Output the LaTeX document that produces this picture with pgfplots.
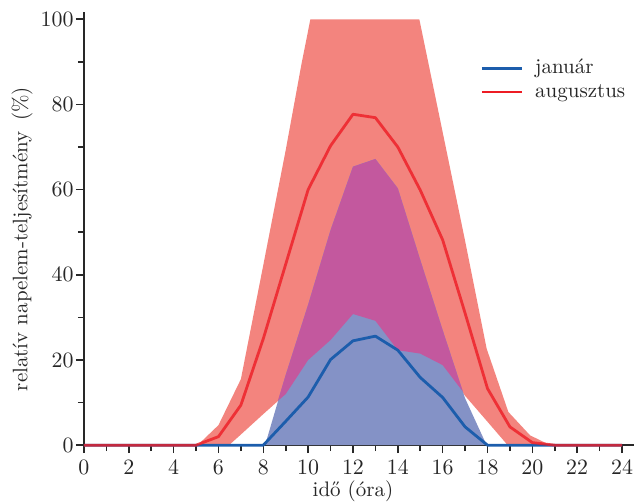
\documentclass[border=0pt]{standalone}
\usepackage{pgfplots}
\pgfplotsset{compat=1.18}

\definecolor{augfill}{RGB}{243,132,126}
\definecolor{janfill}{RGB}{132,146,198}
\definecolor{overlap}{RGB}{195,88,158}
\definecolor{augline}{RGB}{237,28,36}
\definecolor{janline}{RGB}{28,93,172}
\definecolor{axisgray}{RGB}{40,40,40}

\begin{document}
\begin{tikzpicture}
\begin{axis}[
    scale only axis,
    width=269pt, height=212.9pt,
    xmin=0, xmax=24, ymin=0, ymax=100,
    axis lines*=left,
    axis line style={line width=0.8pt, axisgray},
    x axis line style={shorten >=-6pt},
    y axis line style={shorten >=-3.5pt},
    xtick={0,2,...,24}, minor xtick={1,3,...,23},
    ytick={0,20,...,100}, minor ytick={10,30,...,90},
    tick align=outside,
    major tick length=4pt, minor tick length=3pt,
    tick style={line width=0.8pt, axisgray},
    font=\fontsize{10.5}{12}\selectfont,
    tick label style={font=\fontsize{10.5}{12}\selectfont, text=black!85},
    yticklabel style={inner sep=1pt},
    xlabel={idő (óra)},
    ylabel={relatív napelem-teljesítmény\enspace(\%)},
    label style={text=black!85},
    xlabel style={at={(axis description cs:0.5,-0.108)}, anchor=center},
    ylabel style={at={(axis description cs:-0.115,0.484)}, anchor=center},
    legend style={at={(0.736,0.857)}, anchor=west, draw=none, fill=none,
        inner sep=0pt, row sep=0pt, text=black!85,
        nodes={inner sep=1pt, text height=7.5pt, text depth=2.2pt},
        /tikz/every odd column/.append style={column sep=5pt}},
    legend cell align=left,
    legend image code/.code={\draw[#1, opacity=1] (0pt,0pt) -- (20pt,0pt);},
    clip=false,
]
% augusztus: min-max savja
\addplot[fill=augfill, draw=none, forget plot] coordinates {
    (5.07,0) (6,4.7) (7,15.5) (8,42.3) (9,69.3) (9.71,89.7) (10.1,100)
    (14.96,100) (16,73.5) (17,48) (17.96,22.7) (18.93,7.8) (19.9,2.3) (20.8,0)
    (18.9,0) (18,5.5) (17,11.6) (16,18.8) (15,21.5) (14,22.3) (13,29.2)
    (12,30.8) (11,24.7) (10,20) (9,12) (8,7.3) (7,2.5) (6.47,0)
};
% január: min-max savja
\addplot[fill=janfill, draw=none, forget plot] coordinates {
    (8.08,0) (9,16.5) (10,33) (11,50.5) (12,65.4) (13,67.2) (14,60.3)
    (15,43.5) (16,27) (17,11) (17.96,0)
};
% a két sáv átfedése
\addplot[fill=overlap, draw=none, forget plot] coordinates {
    (8.65,10.4) (9,16.5) (10,33) (11,50.5) (12,65.4) (13,67.2) (14,60.3)
    (15,43.5) (16,27) (16.9,12.6)
    (16,18.8) (15,21.5) (14,22.3) (13,29.2) (12,30.8) (11,24.7) (10,20)
    (9,12)
};
% átlagok
\addplot[janline, line width=1.4pt, line join=round] coordinates {
    (0,0) (1,0) (2,0) (3,0) (4,0) (5,0) (6,0) (7,0) (8,0) (9,5.6) (10,11.3)
    (11,20.1) (12,24.5) (13,25.6) (14,22.3) (15,15.9) (16,11.2) (17,4.3)
    (18,0) (19,0) (20,0) (21,0) (22,0) (23,0) (24,0)
};
\addlegendentry{január}
\addplot[augline, line width=1.4pt, line join=round, opacity=0.8] coordinates {
    (0,0) (1,0) (2,0) (3,0) (4,0) (5,0) (6,2) (7,9.4) (8,25) (9,42.5)
    (10,60) (11,70.3) (12,77.7) (13,76.9) (14,70) (15,59.9) (16,48.2)
    (17,31) (18,13.3) (19,4.3) (20,0.6) (21,0) (22,0) (23,0) (24,0)
};
\addlegendentry{augusztus}
\coordinate (bbsw) at (rel axis cs:-0.156,-0.1315);
\coordinate (bbne) at (rel axis cs:1.0223,1.0453);
\end{axis}
\pgfresetboundingbox
\path[use as bounding box] (bbsw) rectangle (bbne);
\end{tikzpicture}
\end{document}
